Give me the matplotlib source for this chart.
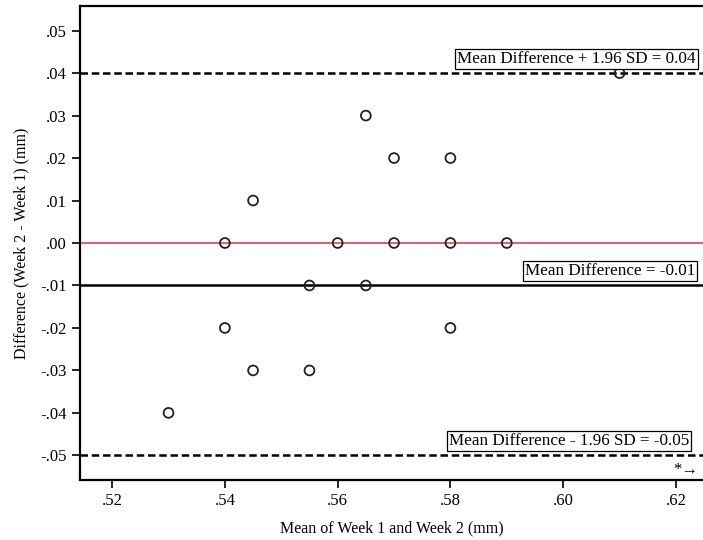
import matplotlib
matplotlib.use("Agg")
import matplotlib.pyplot as plt
from matplotlib.ticker import FuncFormatter

plt.rcParams['font.family'] = ['Liberation Serif', 'DejaVu Serif']

mean_vals = [0.53, 0.54, 0.54, 0.545, 0.545, 0.555, 0.555, 0.56, 0.565, 0.565,
             0.57, 0.57, 0.58, 0.58, 0.58, 0.59, 0.61]
diff_vals = [-0.04, 0.00, -0.02, 0.01, -0.03, -0.01, -0.03, 0.00, 0.03, -0.01,
             0.02, 0.00, 0.02, 0.00, -0.02, 0.00, 0.04]
mean_diff = -0.01
upper_loa = 0.04
lower_loa = -0.05
x_ticks = [0.52, 0.54, 0.56, 0.58, 0.60, 0.62]
y_ticks = [0.05, 0.04, 0.03, 0.02, 0.01, 0.00, -0.01, -0.02, -0.03, -0.04, -0.05]
labels = ["Mean Difference + 1.96 SD = 0.04", "Mean Difference = -0.01",
          "Mean Difference - 1.96 SD = -0.05"]

fig = plt.figure(figsize=(7.03, 5.40), dpi=100)
ax = fig.add_axes([80/703, 60/540, 1 - 80/703, 474/540])

ax.axhline(0, color='#e8505b', lw=1.3, zorder=1)
ax.axhline(mean_diff, color='black', lw=1.8, zorder=1)
ax.axhline(upper_loa, color='black', lw=1.8, ls=(0, (3, 1.5)), zorder=1)
ax.axhline(lower_loa, color='black', lw=1.8, ls=(0, (3, 1.5)), zorder=1)

ax.scatter(mean_vals, diff_vals, s=50, facecolors='none', edgecolors='#222222',
           linewidths=1.3, zorder=3)

box = dict(boxstyle='square,pad=0.12', fc='white', ec='black', lw=0.9)
ax.text(0.5812, upper_loa + 0.0015, labels[0], ha='left', va='bottom', fontsize=12.3, bbox=box, zorder=4)
ax.text(0.5932, mean_diff + 0.0015, labels[1], ha='left', va='bottom', fontsize=12.3, bbox=box, zorder=4)
ax.text(0.5797, lower_loa + 0.0015, labels[2], ha='left', va='bottom', fontsize=12.3, bbox=box, zorder=4)
ax.text(0.6195, -0.0533, "*\u2192", ha='left', va='center', fontsize=12, zorder=4)

ax.set_xlim(0.5143, 0.6248)
ax.set_ylim(-0.0558, 0.0558)
ax.set_xticks(x_ticks)
ax.set_yticks(y_ticks)

def fmt(v, pos):
    s = f"{v:.2f}"
    if s.startswith("-0"):
        return "-" + s[2:]
    if s.startswith("0"):
        return s[1:]
    return s
ax.xaxis.set_major_formatter(FuncFormatter(fmt))
ax.yaxis.set_major_formatter(FuncFormatter(fmt))

ax.tick_params(direction='out', length=6, width=1.2, labelsize=12)
ax.spines['right'].set_visible(False)
for sp in ['left', 'bottom', 'top']:
    ax.spines[sp].set_linewidth(1.6)

ax.set_xlabel("Mean of Week 1 and Week 2 (mm)", fontsize=11.5, labelpad=8)
ax.set_ylabel("Difference (Week 2 - Week 1) (mm)", fontsize=11.5, labelpad=8)

fig.savefig("out.png", dpi=100)
